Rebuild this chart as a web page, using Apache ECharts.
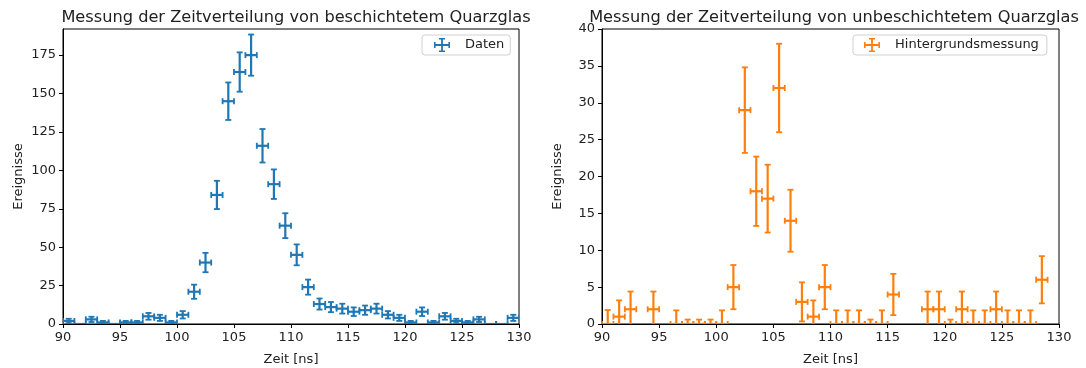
<!DOCTYPE html>
<html>
<head>
<meta charset="utf-8">
<script src="https://cdn.jsdelivr.net/npm/echarts@6/dist/echarts.min.js"></script>
<style>
  html, body { margin: 0; padding: 0; background: #fff; }
  #chart { width: 1086px; height: 368px; }
</style>
</head>
<body>
<div id="chart"></div>
<script>
// Bin centres of the time histogram [ns]
const timeBins = [
  90.5, 91.5, 92.5, 93.5, 94.5, 95.5, 96.5, 97.5, 98.5, 99.5,
  100.5, 101.5, 102.5, 103.5, 104.5, 105.5, 106.5, 107.5, 108.5, 109.5,
  110.5, 111.5, 112.5, 113.5, 114.5, 115.5, 116.5, 117.5, 118.5, 119.5,
  120.5, 121.5, 122.5, 123.5, 124.5, 125.5, 126.5, 127.5, 128.5, 129.5
];
const halfBinWidth = 0.5;

// Coated quartz glass: counts per bin and their uncertainties
const coatedCounts = [
  2, 0, 3, 1, 0, 1, 1, 5, 4, 1,
  6, 21, 40, 84, 145, 164, 175, 116, 91, 64,
  45, 24, 13, 11, 10, 8, 9, 10, 6, 4,
  1, 8, 1, 5, 2, 1, 3, 0, 0, 4
];
const coatedErrors = [
  1.4, 0, 1.7, 1, 0, 1, 1, 2.2, 2, 1,
  2.4, 4.6, 6.3, 9.2, 12.2, 12.8, 13.4, 10.9, 9.6, 8.1,
  6.8, 4.9, 3.6, 3.3, 3.2, 2.8, 3, 3.2, 2.4, 2,
  1, 2.8, 1, 2.2, 1.4, 1, 1.7, 0, 0, 2
];

// Uncoated quartz glass (background run); null = empty bin without a marker
const uncoatedCounts = [
  0, 1, 2, null, 2, null, 0, 0, 0, 0,
  0, 5, 29, 18, 17, 32, 14, 3, 1, 5,
  0, 0, 0, 0, 0, 4, null, null, 2, 2,
  0, 2, 0, 0, 2, 0, 0, 0, 6, null
];
const uncoatedErrors = [
  1.9, 2.2, 2.4, 0, 2.4, 0, 1.85, 0.6, 0.6, 0.6,
  1.85, 3.0, 5.8, 4.7, 4.6, 6.0, 4.2, 2.65, 2.2, 3.0,
  1.85, 1.85, 1.85, 0.6, 1.85, 2.8, 0, 0, 2.4, 2.4,
  0.6, 2.4, 1.85, 1.85, 2.4, 1.85, 1.85, 1.85, 3.2, 0
];

const coatedTicks = [0, 25, 50, 75, 100, 125, 150, 175];
const uncoatedTicks = [0, 5, 10, 15, 20, 25, 30, 35, 40];
const timeTicks = [90, 95, 100, 105, 110, 115, 120, 125, 130];

const BLUE = '#1f77b4';
const ORANGE = '#ff7f0e';
const INK = '#222222';

function toPoints(counts, errors) {
  const pts = [];
  timeBins.forEach((t, i) => {
    if (counts[i] !== null) pts.push([t, counts[i], errors[i]]);
  });
  return pts;
}

// Error-bar cross: horizontal bar over the bin width, vertical bar = uncertainty, with caps
function makeRenderer(color) {
  return function (params, api) {
    const x = api.value(0), y = api.value(1), e = api.value(2);
    const c = api.coord([x, y]);
    const l = api.coord([x - halfBinWidth, y]);
    const r = api.coord([x + halfBinWidth, y]);
    const t = api.coord([x, y + e]);
    const b = api.coord([x, y - e]);
    const cap = 3;
    const lw = 2.2, cw = 1.8;
    const line = (x1, y1, x2, y2, w) => ({
      type: 'line',
      shape: { x1, y1, x2, y2 },
      style: { stroke: color, lineWidth: w }
    });
    const children = [
      line(l[0], c[1], r[0], c[1], lw),
      line(l[0], c[1] - cap, l[0], c[1] + cap, cw),
      line(r[0], c[1] - cap, r[0], c[1] + cap, cw)
    ];
    if (e > 0) {
      children.push(line(c[0], t[1], c[0], b[1], lw));
      children.push(line(c[0] - cap, t[1], c[0] + cap, t[1], cw));
      children.push(line(c[0] - cap, b[1], c[0] + cap, b[1], cw));
    }
    return { type: 'group', children };
  };
}

const crossIcon = 'path://M0 6.1H16V7.9H0Z M7.1 0H8.9V14H7.1Z M5 0H11V1.6H5Z M5 12.4H11V14H5Z M0 4H1.6V10H0Z M14.4 4H16V10H14.4Z';

function xAxisFor(gridIndex) {
  return {
    type: 'value', gridIndex, min: 90, max: 130, interval: 5,
    name: 'Zeit [ns]', nameLocation: 'middle', nameGap: 29,
    nameTextStyle: { fontSize: 13, color: INK, fontFamily: 'DejaVu Sans' },
    axisLine: { show: true, onZero: false, lineStyle: { color: '#000', width: 1 } },
    axisTick: { show: true, inside: false, length: 4, lineStyle: { color: '#000' } },
    axisLabel: { fontSize: 13, color: INK, margin: 7, fontFamily: 'DejaVu Sans',
      customValues: timeTicks },
    splitLine: { show: false }
  };
}

function yAxisFor(gridIndex, max, interval, ticks) {
  return {
    type: 'value', gridIndex, min: 0, max, interval,
    name: 'Ereignisse', nameLocation: 'middle', nameGap: 38,
    nameTextStyle: { fontSize: 13, color: INK, fontFamily: 'DejaVu Sans' },
    axisLine: { show: true, onZero: false, lineStyle: { color: '#000', width: 1 } },
    axisTick: { show: true, inside: false, length: 4, lineStyle: { color: '#000' },
      customValues: ticks },
    axisLabel: { fontSize: 13, color: INK, margin: 7, fontFamily: 'DejaVu Sans',
      customValues: ticks },
    splitLine: { show: false }
  };
}

const legendBase = {
  orient: 'horizontal',
  itemWidth: 16, itemHeight: 14,
  backgroundColor: '#fff',
  borderColor: '#d0d0d0', borderWidth: 1, borderRadius: 3,
  textStyle: { fontSize: 13, color: INK, fontFamily: 'DejaVu Sans', padding: [0, 0, 0, 10] },
  selectedMode: false
};

const gridBase = {
  top: 29, height: 295, show: true, borderColor: '#000', borderWidth: 1,
  backgroundColor: 'transparent', containLabel: false, outerBoundsMode: 'none'
};

const chart = echarts.init(document.getElementById('chart'), null, { renderer: 'canvas' });
chart.setOption({
  backgroundColor: '#fff',
  animation: false,
  title: [
    { text: 'Messung der Zeitverteilung von beschichtetem Quarzglas', left: 291, top: 5,
      textAlign: 'center',
      textStyle: { fontSize: 16.2, fontWeight: 'normal', color: INK, fontFamily: 'DejaVu Sans' } },
    { text: 'Messung der Zeitverteilung von unbeschichtetem Quarzglas', left: 829, top: 5,
      textAlign: 'center',
      textStyle: { fontSize: 16.2, fontWeight: 'normal', color: INK, fontFamily: 'DejaVu Sans' } }
  ],
  legend: [
    Object.assign({}, legendBase, { left: 422, top: 35, padding: [3, 6, 3, 12],
      data: [{ name: 'Daten', icon: crossIcon }] }),
    Object.assign({}, legendBase, { left: 853, top: 35, padding: [3, 8, 3, 11],
      data: [{ name: 'Hintergrundsmessung', icon: crossIcon }] })
  ],
  grid: [
    Object.assign({}, gridBase, { left: 63, width: 456 }),
    Object.assign({}, gridBase, { left: 602, width: 457 })
  ],
  xAxis: [xAxisFor(0), xAxisFor(1)],
  yAxis: [yAxisFor(0, 192, 25, coatedTicks), yAxisFor(1, 40, 5, uncoatedTicks)],
  series: [
    { type: 'custom', name: 'Daten', xAxisIndex: 0, yAxisIndex: 0, clip: true,
      itemStyle: { color: BLUE },
      renderItem: makeRenderer(BLUE), data: toPoints(coatedCounts, coatedErrors) },
    { type: 'custom', name: 'Hintergrundsmessung', xAxisIndex: 1, yAxisIndex: 1, clip: true,
      itemStyle: { color: ORANGE },
      renderItem: makeRenderer(ORANGE), data: toPoints(uncoatedCounts, uncoatedErrors) }
  ]
});
</script>
</body>
</html>
